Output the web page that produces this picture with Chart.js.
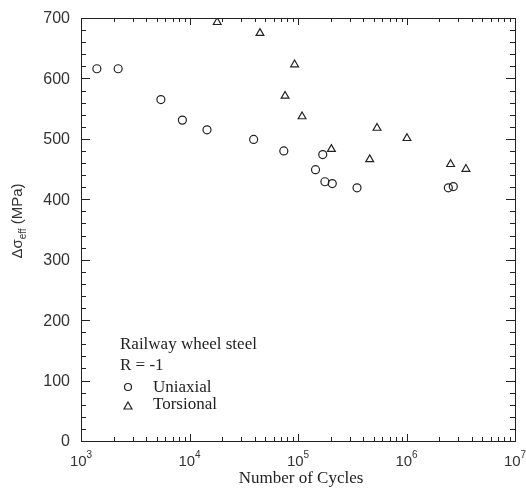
<!DOCTYPE html>
<html>
<head>
<meta charset="utf-8">
<script src="https://cdn.jsdelivr.net/npm/chart.js@4"></script>
<style>
  html, body { margin: 0; padding: 0; background: #fff; }
  #wrap { width: 526px; height: 491px; }
</style>
</head>
<body>
<div id="wrap"><canvas id="chart"></canvas></div>
<script>
// Uniaxial data (cycles, MPa)
const uniCycles = [1400, 2200, 5450, 8600, 14500, 39000, 74000, 169000, 145000, 177000, 207000, 350000, 2430000, 2700000];
const uniStress = [616, 616, 565, 531, 515, 499, 480, 474, 449, 429, 426, 419, 419, 421];

// Torsional data
const torCycles = [18000, 44600, 93000, 76000, 109000, 203000, 535000, 458000, 1010000, 2550000, 3530000];
const torStress = [693, 675, 623, 571, 537, 483, 518, 466, 501, 458, 450];

const xTicks = [1e3, 1e4, 1e5, 1e6, 1e7];
const xExp = ['3', '4', '5', '6', '7'];
const yTicks = [0, 100, 200, 300, 400, 500, 600, 700];
const yMinorStep = 20;

const legendTitle = ['Railway wheel steel', 'R = -1'];
const seriesNames = ['Uniaxial', 'Torsional'];

const ink = '#222';
const serif = '"Liberation Serif", "DejaVu Serif", serif';
const sans = '"Liberation Sans", Arial, sans-serif';

function toPoints(xs, ys) {
    return xs.map((x, i) => ({ x: x, y: ys[i] }));
}

// Draws frame, inward ticks, tick labels, axis titles and the legend text
const framePlugin = {
    id: 'frame',
    afterDraw(chart) {
        const ctx = chart.ctx;
        const { left, right, top, bottom } = chart.chartArea;
        const xs = chart.scales.x;
        const ys = chart.scales.y;
        ctx.save();
        ctx.strokeStyle = ink;
        ctx.lineWidth = 1;
        ctx.strokeRect(left + 0.5, top + 0.5, right - left, bottom - top);

        ctx.beginPath();
        // x ticks (top and bottom)
        for (let d = 0; d < xTicks.length; d++) {
            const base = xTicks[d];
            for (let m = 1; m <= 9; m++) {
                const v = base * m;
                if (v > xTicks[xTicks.length - 1]) break;
                const px = Math.round(xs.getPixelForValue(v)) + 0.5;
                const len = m === 1 ? 7 : 4;
                ctx.moveTo(px, bottom); ctx.lineTo(px, bottom - len);
                ctx.moveTo(px, top); ctx.lineTo(px, top + len);
            }
        }
        // y ticks (left and right)
        for (let v = yTicks[0]; v <= yTicks[yTicks.length - 1]; v += yMinorStep) {
            const py = Math.round(ys.getPixelForValue(v)) + 0.5;
            const len = v % 100 === 0 ? 9 : 5;
            ctx.moveTo(left, py); ctx.lineTo(left + len, py);
            ctx.moveTo(right, py); ctx.lineTo(right - len, py);
        }
        ctx.stroke();

        ctx.fillStyle = '#333';
        ctx.font = '16px ' + sans;
        // y labels
        ctx.textAlign = 'right';
        ctx.textBaseline = 'middle';
        yTicks.forEach(v => {
            ctx.fillText(String(v), left - 11, ys.getPixelForValue(v) + 1);
        });
        // x labels with superscripts
        ctx.textBaseline = 'alphabetic';
        ctx.textAlign = 'left';
        xTicks.forEach((v, i) => {
            const px = xs.getPixelForValue(v);
            ctx.font = '15px ' + sans;
            const w1 = ctx.measureText('10').width;
            ctx.font = '10px ' + sans;
            const w2 = ctx.measureText(xExp[i]).width;
            const x0 = px - (w1 + w2) / 2;
            ctx.font = '15px ' + sans;
            ctx.fillText('10', x0, bottom + 25);
            ctx.font = '10px ' + sans;
            ctx.fillText(xExp[i], x0 + w1, bottom + 17);
        });

        // x title
        ctx.fillStyle = ink;
        ctx.font = '17px ' + serif;
        ctx.textAlign = 'center';
        ctx.fillText('Number of Cycles', (left + right) / 2 + 3, bottom + 42);

        // y title, rotated
        ctx.fillStyle = '#333';
        ctx.save();
        ctx.translate(22, 221);
        ctx.rotate(-Math.PI / 2);
        ctx.textAlign = 'left';
        const p1 = 'Δσ', p2 = 'eff', p3 = ' (MPa)';
        ctx.font = '15px ' + sans;
        const a = ctx.measureText(p1).width;
        const c = ctx.measureText(p3).width;
        ctx.font = '10px ' + sans;
        const b = ctx.measureText(p2).width;
        const start = -(a + b + c) / 2;
        ctx.font = '15px ' + sans;
        ctx.fillText(p1, start, 0);
        ctx.font = '10px ' + sans;
        ctx.fillText(p2, start + a, 4);
        ctx.font = '15px ' + sans;
        ctx.fillText(p3, start + a + b, 0);
        ctx.restore();

        // legend
        ctx.fillStyle = ink;
        ctx.font = '17px ' + serif;
        ctx.textAlign = 'left';
        ctx.fillText(legendTitle[0], 120, 349);
        ctx.fillText(legendTitle[1], 120, 370);
        ctx.fillText(seriesNames[0], 153, 392);
        ctx.fillText(seriesNames[1], 153, 409);
        // legend symbols
        ctx.lineWidth = 1.2;
        ctx.strokeStyle = ink;
        ctx.beginPath();
        ctx.arc(128, 387, 3.5, 0, Math.PI * 2);
        ctx.stroke();
        ctx.beginPath();
        ctx.moveTo(128, 402);
        ctx.lineTo(132, 409);
        ctx.lineTo(124, 409);
        ctx.closePath();
        ctx.stroke();
        ctx.restore();
    }
};

new Chart(document.getElementById('chart'), {
    type: 'scatter',
    data: {
        datasets: [
            {
                label: seriesNames[0],
                data: toPoints(uniCycles, uniStress),
                pointStyle: 'circle',
                pointRadius: 4,
                borderColor: ink,
                borderWidth: 1.2,
                backgroundColor: 'rgba(0,0,0,0)'
            },
            {
                label: seriesNames[1],
                data: toPoints(torCycles, torStress),
                pointStyle: 'triangle',
                pointRadius: 4.5,
                borderColor: ink,
                borderWidth: 1.2,
                backgroundColor: 'rgba(0,0,0,0)'
            }
        ]
    },
    options: {
        responsive: true,
        maintainAspectRatio: false,
        animation: false,
        layout: { padding: { left: 81, right: 11, top: 18, bottom: 50 } },
        plugins: {
            legend: { display: false },
            tooltip: { enabled: false }
        },
        scales: {
            x: { type: 'logarithmic', min: 1e3, max: 1e7, display: false },
            y: { type: 'linear', min: 0, max: 700, display: false }
        }
    },
    plugins: [framePlugin]
});
</script>
</body>
</html>
